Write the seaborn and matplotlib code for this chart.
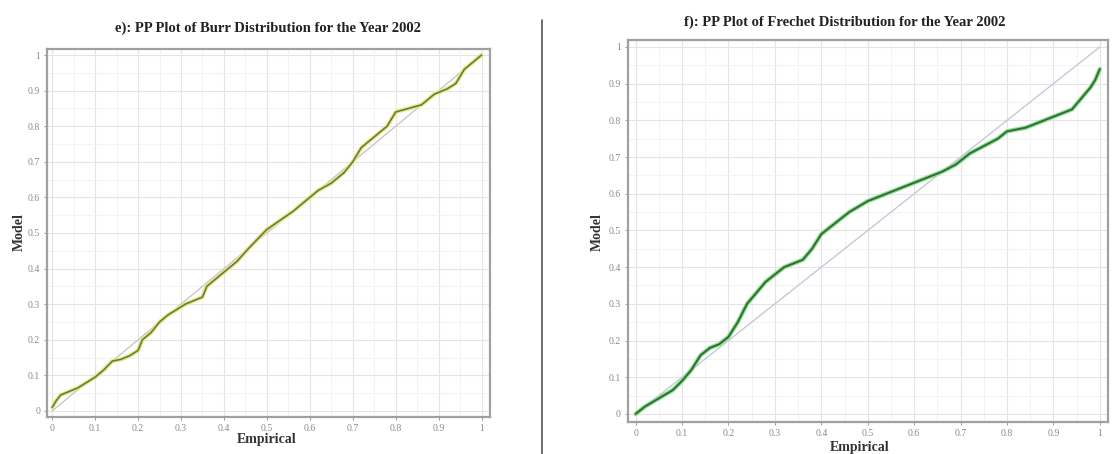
import matplotlib
matplotlib.use("Agg")
import matplotlib.pyplot as plt
from matplotlib.lines import Line2D
from matplotlib.ticker import MultipleLocator
import seaborn as sns

sns.set_theme(style="white")
plt.rcParams['font.family'] = ['Liberation Serif', 'DejaVu Serif']

# ---- data ----
burr_empirical = [0.0, 0.01, 0.02, 0.04, 0.06, 0.08, 0.10, 0.12, 0.14, 0.16, 0.18, 0.20, 0.21,
                  0.23, 0.25, 0.27, 0.29, 0.31, 0.33, 0.35, 0.36, 0.38, 0.40, 0.43, 0.46,
                  0.50, 0.53, 0.56, 0.59, 0.62, 0.65, 0.68, 0.70, 0.72, 0.75, 0.78, 0.80,
                  0.83, 0.86, 0.89, 0.92, 0.94, 0.96, 0.98, 1.0]
burr_model = [0.01, 0.03, 0.045, 0.055, 0.065, 0.08, 0.095, 0.115, 0.14, 0.145, 0.155, 0.17, 0.20,
              0.22, 0.25, 0.27, 0.285, 0.30, 0.31, 0.32, 0.35, 0.37, 0.39, 0.42, 0.46,
              0.51, 0.535, 0.56, 0.59, 0.62, 0.64, 0.67, 0.70, 0.74, 0.77, 0.80, 0.84,
              0.85, 0.86, 0.89, 0.905, 0.92, 0.96, 0.98, 1.0]

frechet_empirical = [0.0, 0.02, 0.04, 0.06, 0.08, 0.10, 0.12, 0.14, 0.16, 0.18, 0.20, 0.22,
                     0.24, 0.26, 0.28, 0.30, 0.32, 0.34, 0.36, 0.38, 0.40, 0.43, 0.46, 0.50,
                     0.54, 0.58, 0.62, 0.66, 0.69, 0.72, 0.75, 0.78, 0.80, 0.84, 0.88, 0.92,
                     0.94, 0.96, 0.98, 0.99, 1.0]
frechet_model = [0.0, 0.02, 0.035, 0.05, 0.065, 0.09, 0.12, 0.16, 0.18, 0.19, 0.21, 0.25,
                 0.30, 0.33, 0.36, 0.38, 0.40, 0.41, 0.42, 0.45, 0.49, 0.52, 0.55, 0.58,
                 0.60, 0.62, 0.64, 0.66, 0.68, 0.71, 0.73, 0.75, 0.77, 0.78, 0.80, 0.82,
                 0.83, 0.86, 0.89, 0.91, 0.94]

diag = [0.0, 1.0]

ticks = [0, 0.1, 0.2, 0.3, 0.4, 0.5, 0.6, 0.7, 0.8, 0.9, 1.0]
tick_labels = ["0", "0.1", "0.2", "0.3", "0.4", "0.5", "0.6", "0.7", "0.8", "0.9", "1"]

titles = ["e): PP Plot of Burr Distribution for the Year 2002",
          "f): PP Plot of Frechet Distribution for the Year 2002"]

fig = plt.figure(figsize=(11.15, 4.54), dpi=100)
ax1 = fig.add_axes([0.0422, 0.0815, 0.397, 0.8106])
ax2 = fig.add_axes([0.563, 0.0705, 0.4305, 0.8414])

def style(ax, xlim, ylim):
    ax.set_xlim(*xlim)
    ax.set_ylim(*ylim)
    ax.set_xticks(ticks)
    ax.set_xticklabels(tick_labels)
    ax.set_yticks(ticks)
    ax.set_yticklabels(tick_labels)
    ax.xaxis.set_minor_locator(MultipleLocator(0.05))
    ax.yaxis.set_minor_locator(MultipleLocator(0.05))
    ax.grid(True, which="major", color="#e4e4e4", linewidth=0.8)
    ax.grid(True, which="minor", color="#f1f1f1", linewidth=0.6)
    ax.set_axisbelow(True)
    for s in ax.spines.values():
        s.set_color("#a0a0a0")
        s.set_linewidth(1.6)
    ax.tick_params(axis="both", labelsize=7, colors="#8a8a8a", length=2, width=0.6,
                   left=True, bottom=True, pad=3)
    ax.set_xlabel("")
    ax.set_ylabel("")

# left panel
sns.lineplot(x=diag, y=diag, ax=ax1, color="#c8c8c8", linewidth=1.0)
sns.lineplot(x=burr_empirical, y=burr_model, ax=ax1, color="#e3ea86", linewidth=3.0, sort=False)
sns.lineplot(x=burr_empirical, y=burr_model, ax=ax1, color="#6f7a3a", linewidth=1.2, sort=False)
style(ax1, (-0.012, 1.019), (-0.017, 1.017))

# right panel
sns.lineplot(x=diag, y=diag, ax=ax2, color="#c3cad8", linewidth=1.0)
sns.lineplot(x=frechet_empirical, y=frechet_model, ax=ax2, color="#92dc92", linewidth=3.2, sort=False)
sns.lineplot(x=frechet_empirical, y=frechet_model, ax=ax2, color="#2c6e34", linewidth=1.4, sort=False)
style(ax2, (-0.017, 1.017), (-0.022, 1.019))

# titles and labels
fig.text(268/1115, 1 - 28/454, titles[0], ha="center", va="center",
         fontsize=10.5, fontweight="bold", color="#222222")
fig.text(845/1115, 1 - 22/454, titles[1], ha="center", va="center",
         fontsize=10.5, fontweight="bold", color="#222222")
fig.text(19/1115, 1 - 232/454, "Model", rotation=90, ha="center", va="center",
         fontsize=10, fontweight="bold", color="#333333")
fig.text(597/1115, 1 - 232/454, "Model", rotation=90, ha="center", va="center",
         fontsize=10, fontweight="bold", color="#333333")
fig.text(267/1115, 1 - 440/454, "Empirical", ha="center", va="center",
         fontsize=10, fontweight="bold", color="#333333")
fig.text(860/1115, 1 - 447/454, "Empirical", ha="center", va="center",
         fontsize=10, fontweight="bold", color="#333333")

# separator line
fig.add_artist(Line2D([542/1115, 542/1115], [0, 1 - 20/454], transform=fig.transFigure,
                      color="#555555", linewidth=1.2))

fig.savefig("out.png", dpi=100, facecolor="white")
